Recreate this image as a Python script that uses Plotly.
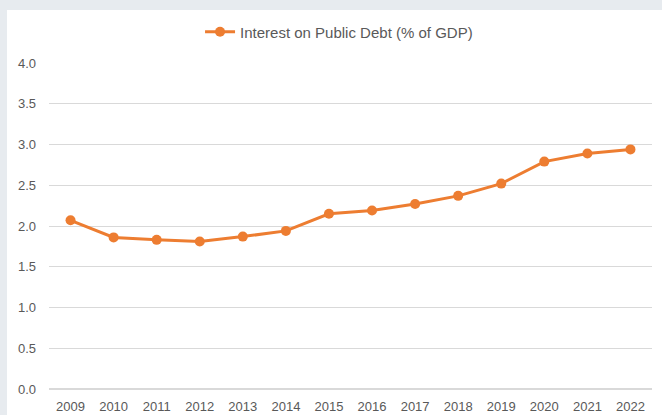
import plotly.graph_objects as go

years = ["2009", "2010", "2011", "2012", "2013", "2014", "2015", "2016",
         "2017", "2018", "2019", "2020", "2021", "2022"]
interest = [2.07, 1.86, 1.83, 1.81, 1.87, 1.94, 2.15, 2.19, 2.27, 2.37,
            2.52, 2.79, 2.89, 2.94]
y_ticks = [0.0, 0.5, 1.0, 1.5, 2.0, 2.5, 3.0, 3.5, 4.0]
series_name = "Interest on Public Debt (% of GDP)"

ORANGE = "#ED7D31"
GRAY_TXT = "#595959"
GRID = "#D9D9D9"

fig = go.Figure()
fig.add_trace(go.Scatter(
    x=years, y=interest, name=series_name, mode="lines+markers",
    line=dict(color=ORANGE, width=3),
    marker=dict(color=ORANGE, size=10),
    showlegend=True,
))

W, H = 662, 415
L, R, T, B = 49, 10, 63, 26
pw = W - L - R
ph = H - T - B

fig.add_shape(type="rect", xref="paper", yref="paper", layer="below",
              x0=(7 - L) / pw, x1=(W - L) / pw + 0.01,
              y0=-(B + 5) / ph, y1=(H - B - 10) / ph,
              fillcolor="white", line=dict(width=0))

fig.update_layout(
    width=W, height=H,
    margin=dict(l=L, r=R, t=T, b=B),
    paper_bgcolor="#E7EBEF",
    plot_bgcolor="rgba(0,0,0,0)",
    font=dict(family="Liberation Sans, Arial, sans-serif", color=GRAY_TXT, size=12),
    showlegend=True,
    legend=dict(orientation="h", x=0.481, xanchor="center", y=(H - B - 32) / ph,
                yanchor="middle", bgcolor="rgba(0,0,0,0)", itemwidth=30,
                font=dict(family="Liberation Sans, Arial", size=15,
                          color=GRAY_TXT)),
    xaxis=dict(type="category", range=[-0.5, len(years) - 0.5],
               showgrid=False, ticks="", showline=False, automargin=False,
               zeroline=False, tickfont=dict(size=13), ticklabelstandoff=8),
    yaxis=dict(range=[0, 4.0], tickvals=y_ticks,
               ticktext=[f"{v:.1f}" for v in y_ticks], automargin=False,
               showgrid=True, gridcolor=GRID, gridwidth=1,
               zeroline=True, zerolinecolor=GRID, zerolinewidth=1.5,
               ticks="", showline=False, tickfont=dict(size=13),
               ticklabelstandoff=12),
)

fig.write_html("out.html")
